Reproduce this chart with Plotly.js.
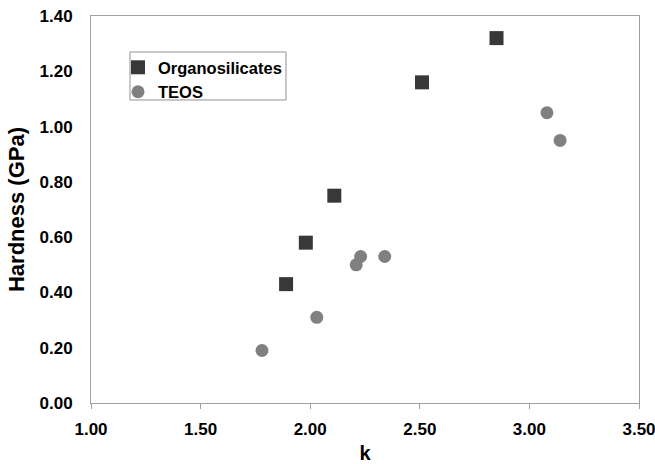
<!DOCTYPE html>
<html>
<head>
<meta charset="utf-8">
<script src="https://cdn.plot.ly/plotly-3.0.1.min.js"></script>
<style>html,body{margin:0;padding:0;background:#fff;}#chart{width:655px;height:464px;}</style>
</head>
<body>
<div id="chart"></div>
<script>
const organoK = [1.89, 1.98, 2.11, 2.51, 2.85];
const organoH = [0.43, 0.58, 0.75, 1.16, 1.32];
const teosK = [1.78, 2.03, 2.21, 2.23, 2.34, 3.08, 3.14];
const teosH = [0.19, 0.31, 0.50, 0.53, 0.53, 1.05, 0.95];
const xTicks = [1.0, 1.5, 2.0, 2.5, 3.0, 3.5];
const yTicks = [0, 0.2, 0.4, 0.6, 0.8, 1.0, 1.2, 1.4];

const font = 'Arial, "Liberation Sans", sans-serif';
const traces = [
  {x: organoK, y: organoH, mode: 'markers', type: 'scatter', name: 'Organosilicates',
   marker: {symbol: 'square', size: 14, color: '#383838'}},
  {x: teosK, y: teosH, mode: 'markers', type: 'scatter', name: 'TEOS',
   marker: {symbol: 'circle', size: 13, color: '#808080'}}
];
const layout = {
  width: 655, height: 464,
  margin: {l: 91, r: 16, t: 16, b: 61},
  paper_bgcolor: '#fff', plot_bgcolor: '#fff',
  font: {family: font, size: 17, color: '#000', weight: 'bold'},
  showlegend: true,
  legend: {x: 0.0493, y: 0.912, xanchor: 'left', yanchor: 'top',
    borderwidth: 0, bgcolor: 'rgba(0,0,0,0)',
    font: {family: font, size: 16.5, color: '#000', weight: 'bold'},
    itemwidth: 30},
  shapes: [{type: 'rect', xref: 'paper', yref: 'paper', x0: 0.0712, x1: 0.3558, y0: 0.783, y1: 0.907,
    line: {color: '#909090', width: 1}, fillcolor: 'rgba(0,0,0,0)', layer: 'above'}],
  xaxis: {range: [1.0, 3.5], tickvals: xTicks, ticktext: xTicks.map(v => v.toFixed(2)),
    showgrid: false, zeroline: false, showline: true, linecolor: '#a0a0a0', linewidth: 1,
    mirror: true, ticks: 'outside', ticklen: 5, tickcolor: '#a0a0a0', ticklabelstandoff: 6,
    ticklabeloverflow: 'allow',
    tickfont: {family: font, size: 17, color: '#000', weight: 'bold'},
    title: {text: 'k', font: {family: font, size: 20, color: '#000', weight: 'bold'}, standoff: 23}},
  yaxis: {range: [0, 1.4], tickvals: yTicks, ticktext: yTicks.map(v => v.toFixed(2)),
    showgrid: false, zeroline: false, showline: true, linecolor: '#a0a0a0', linewidth: 1,
    mirror: true, ticks: '', ticklabelstandoff: 14,
    tickfont: {family: font, size: 17, color: '#000', weight: 'bold'},
    title: {text: 'Hardness (GPa)', font: {family: font, size: 22, color: '#000', weight: 'bold'}, standoff: 8}}
};
Plotly.newPlot('chart', traces, layout, {displayModeBar: false, staticPlot: true});
</script>
</body>
</html>
